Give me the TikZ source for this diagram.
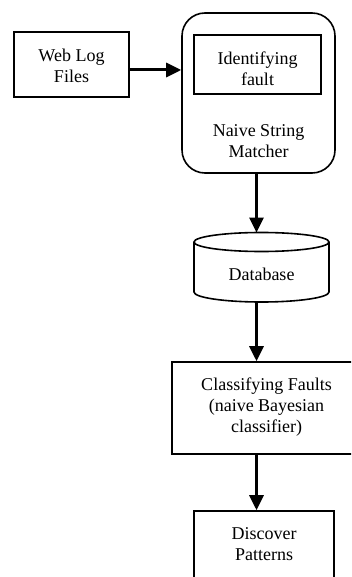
\documentclass[tikz,border=0pt]{standalone}
\usepackage{fontspec}
\setmainfont{Liberation Serif}
\usetikzlibrary{arrows.meta}
\begin{document}
\begin{tikzpicture}[x=1pt,y=-1pt,
  box/.style={draw, line width=1.6pt, inner sep=0pt},
  lbl/.style={align=center, font=\fontsize{18}{21}\selectfont, inner sep=0pt},
  flow/.style={line width=3pt, -{Triangle[length=15pt,width=14pt]}}]
\useasboundingbox (0,0) rectangle (351,577);
\clip (0,0) rectangle (351,577);
% Web log files
\node[box, minimum width=115pt, minimum height=65pt] (web) at (71.5,64.5) {};
\node[lbl] (webtxt) at (71.5,65.5) {Web Log\\Files};
% Naive string matcher
\node[box, rounded corners=23pt, minimum width=153pt, minimum height=160pt] (nsm) at (258.5,93) {};
\node[box, minimum width=127pt, minimum height=59pt] (idf) at (257.5,64.5) {};
\node[lbl] (idftxt) at (257.5,69) {Identifying\\fault};
\node[lbl] (nsmtxt) at (258.5,141) {Naive String\\Matcher};
% Database cylinder
\draw[line width=1.6pt] (194,242) -- (194,292) arc[start angle=180, end angle=0, x radius=67.5, y radius=10] -- (329,242);
\draw[line width=1.6pt] (261.5,242) ellipse[x radius=67.5, y radius=9.5];
\node[lbl] (db) at (261.5,274) {Database};
\coordinate (dbtop) at (256.5,232.5);
\coordinate (dbbot) at (256.5,302);
% Classifying faults
\node[box, minimum width=189pt, minimum height=92pt] (cls) at (266.5,408) {};
\node[lbl] (clstxt) at (266.5,407) {Classifying Faults\\(naive Bayesian\\classifier)};
% Discover patterns
\node[box, minimum width=140pt, minimum height=80pt] (dis) at (264,551) {};
\node[lbl] (distxt) at (264,544) {Discover\\Patterns};
% connectors
\coordinate (a1) at (0,70);
\coordinate (vx) at (256.5,0);
\draw[flow] (web.east |- a1) -- (nsm.west |- a1);
\draw[flow] (vx |- nsm.south) -- (dbtop);
\draw[flow] (dbbot) -- (vx |- cls.north);
\draw[flow] (vx |- cls.south) -- (vx |- dis.north);
\end{tikzpicture}
\end{document}
